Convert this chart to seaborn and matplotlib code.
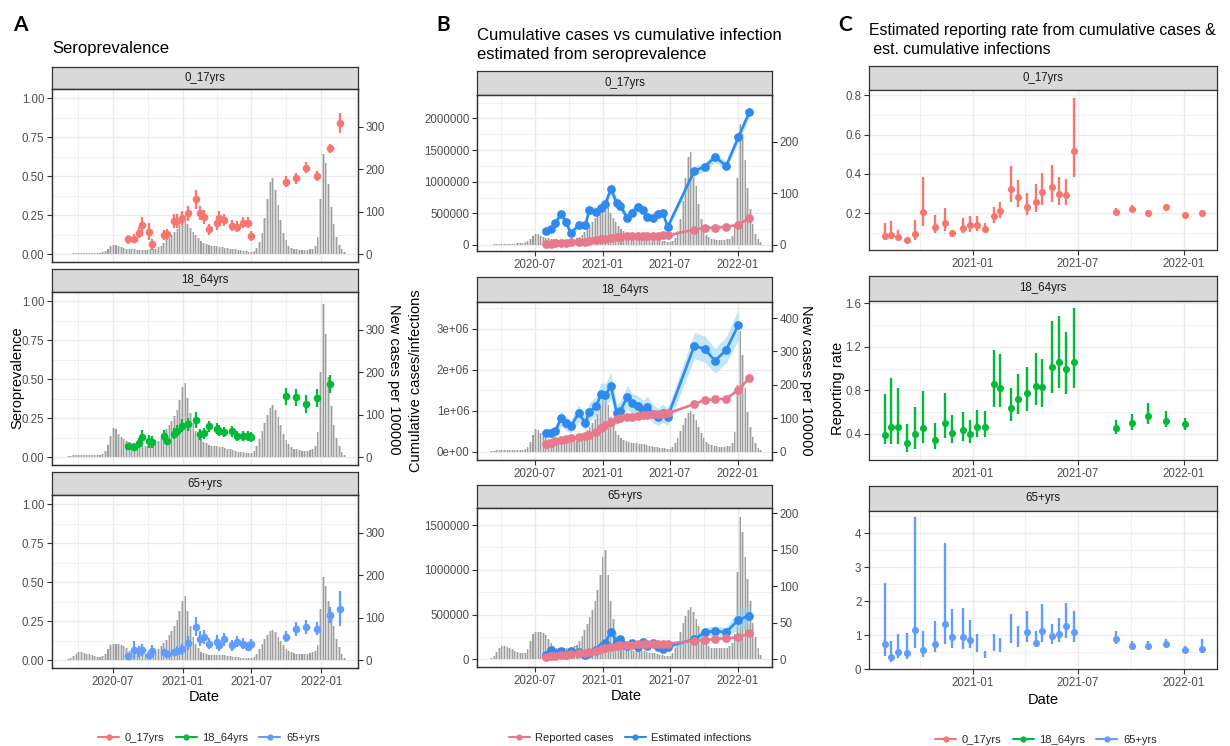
import numpy as np
import pandas as pd
import matplotlib
matplotlib.use("Agg")
import matplotlib.pyplot as plt
import matplotlib.dates as mdates
from matplotlib.lines import Line2D
import seaborn as sns

sns.set_theme(style="white")
plt.rcParams["font.family"] = ["Liberation Sans", "DejaVu Sans"]

# ---------------------------------------------------------------- data
age_groups = ["0_17yrs", "18_64yrs", "65+yrs"]
group_colors = ["#F8766D", "#00BA38", "#619CFF"]

# weekly new cases per 100000 (weeks starting 2020-03-02)
case_weeks = pd.date_range("2020-03-02", periods=105, freq="7D")
cases_0_17 = [0.5, 1, 1.5, 2, 2, 2, 2, 2, 2, 2.5,
              3, 3, 3.5, 5,
              8, 12, 18, 21, 21, 18, 16, 14, 13, 12,
              11, 11, 10, 10, 10, 10, 10, 11, 12, 13,
              16, 20, 26, 32, 38, 45, 52, 60, 68, 75,
              78, 72, 62, 52, 44, 37, 31, 27, 24, 22,
              20, 19, 18, 17, 16, 15, 14, 13, 12, 11,
              10, 9, 8, 7, 6, 6, 8, 14, 28, 50,
              85, 130, 170, 180, 150, 115, 80, 50, 32, 20,
              15, 12, 11, 10, 10, 10, 10, 11, 12, 18,
              40, 130, 235, 215, 165, 110, 70, 40, 22, 12, 5]
cases_18_64 = [2, 3, 4, 4, 5, 5, 5, 5, 5, 5, 5, 5, 6, 8,
               14, 28, 50, 68, 65, 55, 48, 42, 38, 35,
               32, 30, 28, 26, 25, 25, 25, 26, 28, 32,
               38, 45, 55, 65, 75, 85, 98, 112, 135, 165,
               175, 140, 105, 80, 62, 50, 42, 36, 32, 29,
               27, 26, 25, 24, 23, 22, 20, 18, 16, 15,
               13, 12, 11, 10, 9, 9, 14, 25, 42, 62,
               80, 100, 115, 122, 112, 95, 75, 55, 40, 30,
               24, 20, 18, 16, 15, 15, 15, 16, 18, 25,
               60, 200, 360, 290, 190, 120, 75, 45, 25, 12, 5]
cases_65 = [2, 5, 10, 15, 18, 18, 17, 15, 14, 12, 10, 8, 8, 9,
            14, 25, 35, 38, 38, 37, 36, 33, 28, 22,
            18, 16, 15, 15, 15, 15, 16, 17, 18, 20,
            25, 32, 40, 48, 58, 68, 80, 95, 115, 140,
            150, 115, 80, 55, 38, 28, 20, 16, 14, 13,
            13, 12, 12, 12, 11, 11, 10, 9, 8, 8,
            7, 6, 6, 5, 5, 5, 8, 15, 25, 38,
            50, 60, 68, 72, 65, 55, 45, 35, 27, 22,
            18, 16, 15, 15, 15, 15, 15, 16, 18, 22,
            35, 120, 195, 175, 140, 110, 80, 50, 30, 15, 6]

# seroprevalence survey rounds
sero_dates = ["2020-08-10", "2020-08-25", "2020-09-09", "2020-09-16", "2020-10-05",
              "2020-10-12", "2020-11-12", "2020-11-20", "2020-12-10", "2020-12-17",
              "2020-12-30", "2021-01-16", "2021-02-04", "2021-02-15", "2021-02-26",
              "2021-03-11", "2021-04-01", "2021-04-06", "2021-04-21", "2021-05-10",
              "2021-05-24", "2021-06-10", "2021-06-22", "2021-07-01", "2021-10-01",
              "2021-10-27", "2021-11-22", "2021-12-21", "2022-01-24", "2022-02-19"]
sero_0_17 = [0.094, 0.098, 0.137, 0.186, 0.143, 0.064, 0.122, 0.126, 0.214, 0.214,
             0.229, 0.261, 0.350, 0.261, 0.239, 0.160, 0.197, 0.229, 0.218, 0.182,
             0.175, 0.201, 0.201, 0.115, 0.464, 0.485, 0.553, 0.500, 0.677, 0.838]
sero_0_17_err = [0.03, 0.03, 0.035, 0.05, 0.055, 0.035, 0.035, 0.035, 0.045, 0.045,
                 0.045, 0.05, 0.06, 0.045, 0.045, 0.035, 0.045, 0.045, 0.04, 0.035,
                 0.035, 0.035, 0.035, 0.03, 0.035, 0.035, 0.035, 0.03, 0.03, 0.065]
sero_18_64 = [0.068, 0.064, 0.089, 0.128, 0.100, 0.096, 0.138, 0.106, 0.149, 0.170,
              0.202, 0.209, 0.238, 0.145, 0.153, 0.198, 0.181, 0.170, 0.160, 0.166,
              0.134, 0.134, 0.134, 0.128, 0.389, 0.383, 0.340, 0.379, 0.468]
sero_18_64_err = [0.025, 0.025, 0.03, 0.045, 0.04, 0.04, 0.035, 0.03, 0.035, 0.035,
                  0.04, 0.04, 0.05, 0.035, 0.035, 0.035, 0.035, 0.035, 0.03, 0.035,
                  0.03, 0.03, 0.03, 0.03, 0.055, 0.055, 0.055, 0.055, 0.06]
sero_65 = [0.028, 0.064, 0.057, 0.064, 0.032, 0.057, 0.049, 0.038, 0.049, 0.060,
           0.070, 0.111, 0.213, 0.138, 0.149, 0.106, 0.117, 0.096, 0.132, 0.096,
           0.117, 0.106, 0.085, 0.100, 0.149, 0.202, 0.213, 0.202, 0.287, 0.330]
sero_65_err = [0.02, 0.055, 0.035, 0.04, 0.025, 0.04, 0.025, 0.025, 0.025, 0.03,
               0.035, 0.045, 0.06, 0.05, 0.045, 0.035, 0.045, 0.035, 0.04, 0.035,
               0.035, 0.035, 0.03, 0.035, 0.035, 0.045, 0.045, 0.04, 0.05, 0.11]

# cumulative reported cases and estimated infections
cum_dates = ["2020-08-01", "2020-08-12", "2020-08-25", "2020-09-09", "2020-09-22",
             "2020-10-06", "2020-10-27", "2020-11-14", "2020-11-25", "2020-12-14",
             "2020-12-26", "2021-01-07", "2021-01-22", "2021-02-07", "2021-02-17",
             "2021-03-08", "2021-03-19", "2021-04-05", "2021-04-20", "2021-05-01",
             "2021-05-17", "2021-05-30", "2021-06-11", "2021-06-25", "2021-09-05",
             "2021-10-03", "2021-10-31", "2021-11-30", "2022-01-02", "2022-02-01"]
reported_0_17 = [15e3, 22e3, 29e3, 34e3, 38e3, 43e3, 48e3, 55e3, 64e3, 78e3,
                 88e3, 100e3, 115e3, 125e3, 131e3, 137e3, 142e3, 143e3, 145e3, 146e3,
                 147e3, 148e3, 151e3, 152e3, 243e3, 268e3, 276e3, 286e3, 320e3, 426e3]
infections_0_17 = [221e3, 253e3, 342e3, 495e3, 368e3, 184e3, 316e3, 316e3, 553e3, 526e3,
                   590e3, 647e3, 884e3, 668e3, 616e3, 421e3, 511e3, 605e3, 553e3, 447e3,
                   432e3, 495e3, 511e3, 289e3, 1174e3, 1237e3, 1389e3, 1253e3, 1700e3, 2105e3]
infections_0_17_err = [50e3, 50e3, 55e3, 70e3, 60e3, 45e3, 55e3, 55e3, 70e3, 70e3,
                       75e3, 80e3, 100e3, 80e3, 75e3, 60e3, 70e3, 75e3, 70e3, 60e3,
                       60e3, 65e3, 65e3, 50e3, 70e3, 70e3, 75e3, 70e3, 75e3, 90e3]
reported_18_64 = [0.179e6, 0.22e6, 0.252e6, 0.285e6, 0.301e6, 0.325e6, 0.35e6, 0.382e6,
                  0.415e6, 0.48e6, 0.569e6, 0.65e6, 0.732e6, 0.789e6, 0.813e6, 0.837e6,
                  0.854e6, 0.87e6, 0.886e6, 0.902e6, 0.911e6, 0.919e6, 0.927e6, 0.935e6,
                  1.163e6, 1.26e6, 1.276e6, 1.293e6, 1.504e6, 1.805e6]
infections_18_64 = [0.463e6, 0.447e6, 0.504e6, 0.813e6, 0.691e6, 0.626e6, 0.935e6, 0.707e6,
                    0.976e6, 1.114e6, 1.398e6, 1.382e6, 1.602e6, 0.951e6, 1.0e6, 1.341e6,
                    1.179e6, 1.114e6, 1.016e6, 1.098e6, 0.919e6, 0.854e6, 0.935e6, 0.854e6,
                    2.585e6, 2.504e6, 2.22e6, 2.48e6, 3.089e6]
infections_18_64_err = [0.12e6, 0.12e6, 0.13e6, 0.18e6, 0.17e6, 0.16e6, 0.2e6, 0.18e6,
                        0.22e6, 0.24e6, 0.28e6, 0.28e6, 0.32e6, 0.22e6, 0.24e6, 0.28e6,
                        0.26e6, 0.25e6, 0.24e6, 0.25e6, 0.22e6, 0.21e6, 0.22e6, 0.21e6,
                        0.32e6, 0.32e6, 0.3e6, 0.32e6, 0.37e6]
reported_65 = [30e3, 37e3, 41e3, 45e3, 48e3, 56e3, 67e3, 75e3, 86e3, 97e3,
               116e3, 131e3, 142e3, 149e3, 157e3, 160e3, 164e3, 168e3, 168e3, 172e3,
               175e3, 175e3, 175e3, 175e3, 205e3, 216e3, 228e3, 235e3, 246e3, 291e3]
infections_65 = [48.5e3, 104e3, 75e3, 97e3, 48.5e3, 93e3, 78e3, 48.5e3, 67e3, 104e3,
                 142e3, 179e3, 310e3, 198e3, 228e3, 153e3, 179e3, 142e3, 198e3, 149e3,
                 179e3, 142e3, 116e3, 142e3, 224e3, 302e3, 317e3, 302e3, 440e3, 489e3]
infections_65_err = [15e3, 25e3, 20e3, 22e3, 15e3, 22e3, 20e3, 15e3, 18e3, 25e3,
                     30e3, 35e3, 55e3, 40e3, 40e3, 30e3, 35e3, 30e3, 35e3, 30e3,
                     35e3, 30e3, 25e3, 30e3, 40e3, 50e3, 55e3, 55e3, 110e3, 130e3]

# reporting rate = cumulative cases / estimated cumulative infections
rate_0_17 = [0.085, 0.09, 0.078, 0.064, 0.093, 0.208, 0.132, 0.149, 0.098, 0.127,
             0.139, 0.14, 0.123, 0.186, 0.211, 0.323, 0.281, 0.233, 0.257, 0.306,
             0.335, 0.296, 0.292, 0.517, 0.208, 0.223, 0.2, 0.23, 0.194, 0.203]
rate_0_17_lo = [0.064, 0.068, 0.064, 0.058, 0.064, 0.135, 0.101, 0.112, 0.078, 0.101,
                0.107, 0.11, 0.106, 0.152, 0.174, 0.259, 0.23, 0.191, 0.208, 0.242,
                0.259, 0.242, 0.242, 0.382, 0.2, 0.208, 0.186, 0.213, 0.185, 0.192]
rate_0_17_hi = [0.149, 0.16, 0.115, 0.07, 0.166, 0.385, 0.19, 0.225, 0.118, 0.174,
                0.186, 0.186, 0.149, 0.233, 0.259, 0.44, 0.369, 0.304, 0.347, 0.407,
                0.446, 0.382, 0.372, 0.786, 0.225, 0.242, 0.216, 0.247, 0.203, 0.215]
rate_18_64 = [0.39, 0.467, 0.461, 0.32, 0.397, 0.452, 0.345, 0.498, 0.412, 0.437,
              0.397, 0.467, 0.467, 0.856, 0.819, 0.642, 0.721, 0.773, 0.844, 0.829,
              1.012, 1.064, 0.994, 1.064, 0.452, 0.498, 0.568, 0.522, 0.489]
rate_18_64_lo = [0.308, 0.308, 0.308, 0.238, 0.262, 0.314, 0.262, 0.36, 0.314, 0.336,
                 0.32, 0.369, 0.376, 0.645, 0.645, 0.522, 0.584, 0.614, 0.666, 0.651,
                 0.78, 0.826, 0.767, 0.819, 0.4, 0.437, 0.492, 0.461, 0.437]
rate_18_64_hi = [0.764, 0.917, 0.822, 0.489, 0.645, 0.795, 0.504, 0.78, 0.578, 0.599,
                 0.529, 0.62, 0.614, 1.171, 1.132, 0.821, 0.948, 1.018, 1.147, 1.089,
                 1.432, 1.478, 1.339, 1.56, 0.529, 0.581, 0.688, 0.614, 0.544]
rate_65 = [0.745, 0.35, 0.49, 0.47, 1.16, 0.55, 0.745, 1.32, 0.93, 0.93,
           0.86, np.nan, np.nan, np.nan, np.nan, np.nan, np.nan, 1.09, 0.78, 1.13,
           0.96, 1.03, 1.27, 1.08, 0.89, 0.69, 0.69, 0.745, 0.57, 0.59]
rate_65_lo = [0.37, 0.22, 0.32, 0.29, 0.62, 0.35, 0.49, 0.745, 0.62, 0.6,
              0.62, 0.49, 0.32, 0.52, 0.5, 0.76, 0.65, 0.81, 0.64, 0.79,
              0.745, 0.81, 0.91, 0.79, 0.745, 0.6, 0.6, 0.64, 0.49, 0.47]
rate_65_hi = [2.55, 0.84, 1.03, 1.06, 4.49, 1.13, 1.42, 3.73, 1.76, 1.79,
              1.45, 1.04, 0.54, 1.04, 0.91, 1.62, 1.27, 1.70, 1.13, 1.91,
              1.32, 1.5, 1.94, 1.70, 1.13, 0.83, 0.83, 0.89, 0.69, 0.89]

# secondary-axis scale factors (new cases per 100000 -> primary axis units)
CASES_PER_SERO = 368.0
CUM_PER_CASE = 8150.0

cases = [cases_0_17, cases_18_64, cases_65]
sero = [sero_0_17, sero_18_64, sero_65]
sero_err = [sero_0_17_err, sero_18_64_err, sero_65_err]
reported = [reported_0_17, reported_18_64, reported_65]
infections = [infections_0_17, infections_18_64, infections_65]
infections_err = [infections_0_17_err, infections_18_64_err, infections_65_err]
rates = [rate_0_17, rate_18_64, rate_65]
rates_lo = [rate_0_17_lo, rate_18_64_lo, rate_65_lo]
rates_hi = [rate_0_17_hi, rate_18_64_hi, rate_65_hi]

# ---------------------------------------------------------------- styling
W, H = 1230, 746
BORDER = "#333333"
GRID = "#EBEBEB"
TICKTXT = "#4D4D4D"
PINK = "#E8788C"
BLUE = "#2F8AF0"
RIBBON = "#8FD3EE"
TICK_FS = 8.3

week_num = mdates.date2num(case_weeks)
week_mid = week_num + 3.5
sero_x = mdates.date2num(pd.to_datetime(sero_dates))
cum_x = mdates.date2num(pd.to_datetime(cum_dates))


def dnum(s):
    return mdates.date2num(pd.Timestamp(s))


MAJOR_AB = [dnum(s) for s in ["2020-07-01", "2021-01-01", "2021-07-01", "2022-01-01"]]
MINOR_AB = [dnum(s) for s in ["2020-04-01", "2020-10-01", "2021-04-01", "2021-10-01", "2022-04-01"]]
MAJOR_C = [dnum(s) for s in ["2021-01-01", "2021-07-01", "2022-01-01"]]
MINOR_C = [dnum(s) for s in ["2020-10-01", "2021-04-01", "2021-10-01"]]

fig = plt.figure(figsize=(W / 100, H / 100), dpi=100)


def px_axes(x0, x1, top, bottom):
    return fig.add_axes([x0 / W, 1 - bottom / H, (x1 - x0) / W, (bottom - top) / H])


def add_facet(x0, x1, strip_top, plot_top, plot_bot, label):
    sax = px_axes(x0, x1, strip_top, plot_top)
    sax.set_facecolor("#D9D9D9")
    sax.set_xticks([])
    sax.set_yticks([])
    for s in sax.spines.values():
        s.set_color(BORDER)
        s.set_linewidth(0.9)
    sax.text(0.5, 0.5, label, transform=sax.transAxes, ha="center", va="center",
             fontsize=TICK_FS, color="#1A1A1A")
    ax = px_axes(x0, x1, plot_top, plot_bot)
    return ax


def style(ax, xlim, ylim, yticks, ylabels, yminor, xmajor, xminor, show_x):
    ax.set_xlim(xlim)
    ax.set_ylim(ylim)
    ax.set_facecolor("white")
    for s in ax.spines.values():
        s.set_visible(True)
        s.set_color(BORDER)
        s.set_linewidth(0.9)
    ax.set_yticks(yticks)
    ax.set_yticklabels(ylabels)
    ax.set_yticks(yminor, minor=True)
    ax.set_xticks(xmajor)
    ax.set_xticks(xminor, minor=True)
    ax.xaxis.set_major_formatter(mdates.DateFormatter("%Y-%m"))
    ax.grid(True, which="major", color=GRID, lw=1.0)
    ax.grid(True, which="minor", color=GRID, lw=0.5)
    ax.set_axisbelow(True)
    ax.tick_params(which="minor", length=0)
    ax.tick_params(which="major", length=3.5, width=0.8, color=BORDER,
                   labelsize=TICK_FS, labelcolor=TICKTXT, pad=2,
                   left=True, bottom=show_x, labelbottom=show_x)
    ax.set_xlabel("")
    ax.set_ylabel("")


def secondary(ax, factor, ticks):
    ax2 = ax.twinx()
    lo, hi = ax.get_ylim()
    ax2.set_ylim(lo * factor, hi * factor)
    ax2.set_yticks(ticks)
    ax2.set_yticklabels([str(t) for t in ticks])
    ax2.grid(False)
    for s in ax2.spines.values():
        s.set_visible(True)
        s.set_color(BORDER)
        s.set_linewidth(0.9)
    ax2.tick_params(axis="y", length=3.5, width=0.8, color=BORDER, right=True,
                    labelsize=TICK_FS, labelcolor=TICKTXT, pad=2)
    return ax2


def draw_cases(ax, values, scale):
    frame = pd.DataFrame({"week": week_mid,
                          "height": np.asarray(values, float) * scale})
    common = dict(data=frame, x="week", weights="height", binwidth=7,
                  binrange=(week_num[0], week_num[-1] + 7), linewidth=0, ax=ax)
    # light body of each weekly bar plus a darker core stripe
    sns.histplot(shrink=1.0, color="#C8C8C8", alpha=0.75, zorder=1, **common)
    sns.histplot(shrink=0.4, color="#8E8E8E", alpha=0.75, zorder=1.1, **common)


def figtext(x, y, s, **kw):
    fig.text(x / W, 1 - y / H, s, **kw)


# ---------------------------------------------------------------- panel A
A_X = (52, 358)
A_ROWS = [(67, 89, 262), (269, 292, 465), (472, 495, 668)]
A_XLIM = (dnum("2020-01-23"), dnum("2022-04-08"))
for i, (st, pt, pb) in enumerate(A_ROWS):
    ax = add_facet(A_X[0], A_X[1], st, pt, pb, age_groups[i])
    draw_cases(ax, cases[i], 1 / CASES_PER_SERO)
    y = np.asarray(sero[i])
    e = np.asarray(sero_err[i])
    x = sero_x[:len(y)]
    ax.vlines(x, y - e, y + e, color=group_colors[i], lw=1.6, zorder=3)
    sns.scatterplot(x=x, y=y, color=group_colors[i], s=30, linewidth=0,
                    ax=ax, zorder=4, legend=False)
    style(ax, A_XLIM, (-0.051, 1.058), [0, 0.25, 0.5, 0.75, 1.0],
          ["0.00", "0.25", "0.50", "0.75", "1.00"], [0.125, 0.375, 0.625, 0.875],
          MAJOR_AB, MINOR_AB, show_x=(i == 2))
    secondary(ax, CASES_PER_SERO, [0, 100, 200, 300])

# ---------------------------------------------------------------- panel B
B_X = (477, 772)
B_ROWS = [(71, 95, 251), (277, 302, 460), (485, 508, 667)]
B_XLIM = (dnum("2020-01-26"), dnum("2022-04-03"))
B_YLIM = [(-0.095e6, 2.37e6), (-0.2e6, 3.65e6), (-0.086e6, 1.69e6)]
B_YTICKS = [
    ([0, 5e5, 1e6, 1.5e6, 2e6], ["0", "500000", "1000000", "1500000", "2000000"],
     [2.5e5, 7.5e5, 1.25e6, 1.75e6, 2.25e6]),
    ([0, 1e6, 2e6, 3e6], ["0e+00", "1e+06", "2e+06", "3e+06"],
     [0.5e6, 1.5e6, 2.5e6, 3.5e6]),
    ([0, 5e5, 1e6, 1.5e6], ["0", "500000", "1000000", "1500000"],
     [2.5e5, 7.5e5, 1.25e6]),
]
B_RIGHT = [[0, 100, 200], [0, 100, 200, 300, 400], [0, 50, 100, 150, 200]]
for i, (st, pt, pb) in enumerate(B_ROWS):
    ax = add_facet(B_X[0], B_X[1], st, pt, pb, age_groups[i])
    draw_cases(ax, cases[i], CUM_PER_CASE)
    inf = np.asarray(infections[i])
    ie = np.asarray(infections_err[i])
    xi = cum_x[:len(inf)]
    ax.fill_between(xi, inf - ie, inf + ie, color=RIBBON, alpha=0.55, lw=0, zorder=2)
    sns.lineplot(x=xi, y=inf, color=BLUE, lw=1.9, marker="o", markersize=6.3,
                 markeredgewidth=0, estimator=None, ax=ax, zorder=4, legend=False)
    rep = np.asarray(reported[i])
    sns.lineplot(x=cum_x[:len(rep)], y=rep, color=PINK, lw=1.9, marker="o",
                 markersize=6.3, markeredgewidth=0, estimator=None, ax=ax, zorder=5,
                 legend=False)
    yt, yl, ym = B_YTICKS[i]
    style(ax, B_XLIM, B_YLIM[i], yt, yl, ym, MAJOR_AB, MINOR_AB, show_x=True)
    secondary(ax, 1 / CUM_PER_CASE, B_RIGHT[i])

# ---------------------------------------------------------------- panel C
C_X = (869, 1217)
C_ROWS = [(66, 90, 250), (276, 301, 460), (486, 511, 669)]
C_XLIM = (dnum("2020-07-05"), dnum("2022-02-27"))
C_YLIM = [(0.014, 0.826), (0.161, 1.62), (0.005, 4.66)]
C_YTICKS = [
    ([0.2, 0.4, 0.6, 0.8], ["0.2", "0.4", "0.6", "0.8"], [0.1, 0.3, 0.5, 0.7]),
    ([0.4, 0.8, 1.2, 1.6], ["0.4", "0.8", "1.2", "1.6"], [0.2, 0.6, 1.0, 1.4]),
    ([0, 1, 2, 3, 4], ["0", "1", "2", "3", "4"], [0.5, 1.5, 2.5, 3.5, 4.5]),
]
for i, (st, pt, pb) in enumerate(C_ROWS):
    ax = add_facet(C_X[0], C_X[1], st, pt, pb, age_groups[i])
    r = np.asarray(rates[i], float)
    x = cum_x[:len(r)]
    ax.vlines(x, rates_lo[i], rates_hi[i], color=group_colors[i], lw=1.7, zorder=3)
    sns.scatterplot(x=x, y=r, color=group_colors[i], s=26, linewidth=0,
                    ax=ax, zorder=4, legend=False)
    yt, yl, ym = C_YTICKS[i]
    style(ax, C_XLIM, C_YLIM[i], yt, yl, ym, MAJOR_C, MINOR_C, show_x=True)

# ---------------------------------------------------------------- titles, labels, legends
LETTER = dict(fontsize=15, fontweight="bold", family=["Lato", "DejaVu Sans"],
              ha="center", va="center", color="black")
figtext(20, 25, "A", **LETTER)
figtext(443, 25, "B", **LETTER)
figtext(845, 25, "C", **LETTER)

TITLE = dict(fontsize=12, ha="left", va="center", color="black")
figtext(52, 49, "Seroprevalence", **TITLE)
figtext(477, 36, "Cumulative cases vs cumulative infection", **TITLE)
figtext(477, 54, "estimated from seroprevalence", **TITLE)
TITLE_C = dict(TITLE, fontsize=11.4)
figtext(869, 31, "Estimated reporting rate from cumulative cases &", **TITLE_C)
figtext(869, 49, " est. cumulative infections", **TITLE_C)

AXT = dict(fontsize=10.5, ha="center", va="center", color="black")
figtext(17, 378, "Seroprevalence", rotation=90, **AXT)
figtext(394, 379, "New cases per 100000", rotation=-90, **AXT)
figtext(416, 381, "Cumulative cases/infections", rotation=90, **AXT)
figtext(806, 380, "New cases per 100000", rotation=-90, **AXT)
figtext(838, 388, "Reporting rate", rotation=90, **AXT)
figtext(204, 697, "Date", **AXT)
figtext(626, 696, "Date", **AXT)
figtext(1043, 700, "Date", **AXT)


def key(color):
    return Line2D([0], [0], color=color, lw=1.5, marker="o", markersize=4.5,
                  markeredgewidth=0)


LEG = dict(loc="center", ncol=3, frameon=False, fontsize=8, handlelength=1.9,
           handletextpad=0.5, columnspacing=1.0)
fig.legend([key(c) for c in group_colors], age_groups,
           bbox_to_anchor=(209 / W, 1 - 738 / H), **LEG)
fig.legend([key(PINK), key(BLUE)], ["Reported cases", "Estimated infections"],
           bbox_to_anchor=(630 / W, 1 - 738 / H), **LEG)
fig.legend([key(c) for c in group_colors], age_groups,
           bbox_to_anchor=(1046 / W, 1 - 740 / H), **LEG)

fig.savefig("out.png", dpi=100, facecolor="white")
